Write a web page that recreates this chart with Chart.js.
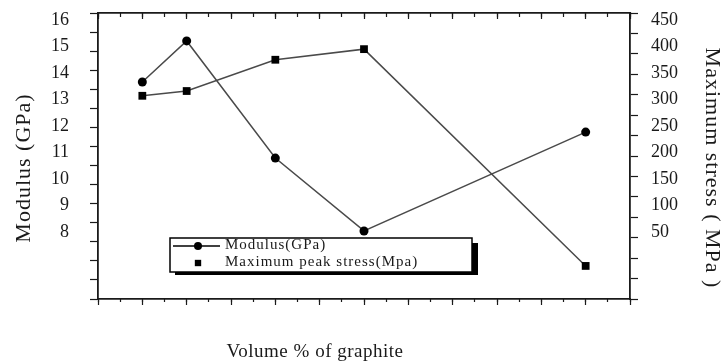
<!DOCTYPE html>
<html>
<head>
<meta charset="utf-8">
<script src="https://cdn.jsdelivr.net/npm/chart.js@4.4.1/dist/chart.umd.min.js"></script>
<style>
    html, body { margin: 0; padding: 0; background: #fff; }
    canvas { display: block; }
</style>
</head>
<body>
<canvas id="graphChart" width="721" height="363"></canvas>
<script>
// values
const graphite = [1, 2, 4, 6, 11];
const modulus = [13.66, 15.21, 10.79, 8.04, 11.77];
const peakStress = [307, 316, 375, 395, -14];

const modulusTicks = [8, 9, 10, 11, 12, 13, 14, 15, 16];
const stressTicks = [50, 100, 150, 200, 250, 300, 350, 400, 450];

const xTitle = 'Volume % of graphite';
const leftTitle = 'Modulus (GPa)';
const rightTitle = 'Maximum stress ( MPa )';

const serif = '"Liberation Serif", "Times New Roman", serif';
const ink = '#1a1a1a';

function fixTicks(values) {
    return function(scale) {
        scale.ticks = values.map(v => ({ value: v }));
    };
}

// axis that only carries tick marks
function marks(position, max, step, len, weight, border, size) {
    return {
        type: 'linear',
        position: position,
        min: 0,
        max: max,
        weight: weight,
        ticks: { display: false, stepSize: step },
        grid: { drawOnChartArea: false, tickLength: len, tickColor: ink, tickWidth: 1.2 },
        border: { display: border, color: ink, width: 1.8 },
        afterFit: function(scale) {
            if (position == 'left' || position == 'right') scale.width = size;
            else scale.height = size;
        }
    };
}

const boxLegend = {
    id: 'boxLegend',
    afterDraw(chart) {
        const ctx = chart.ctx;
        const area = chart.chartArea;
        const x = area.left + 72, y = area.top + 225, w = 302, h = 34;
        ctx.save();
        ctx.fillStyle = '#000';
        ctx.fillRect(x + 5, y + 5, w + 1, h - 2);
        ctx.fillStyle = '#fff';
        ctx.fillRect(x, y, w, h);
        ctx.strokeStyle = '#000';
        ctx.lineWidth = 1.5;
        ctx.strokeRect(x, y, w, h);

        chart.data.datasets.forEach((ds, i) => {
            const cy = y + 8 + i * 17;
            const cx = x + 28;
            if (ds.showLegendLine) {
                ctx.strokeStyle = '#000';
                ctx.lineWidth = 1.3;
                ctx.beginPath();
                ctx.moveTo(x + 3, cy);
                ctx.lineTo(x + 50, cy);
                ctx.stroke();
            }
            ctx.fillStyle = '#000';
            Chart.helpers.drawPoint(ctx, {
                pointStyle: ds.pointStyle,
                radius: ds.pointStyle == 'rect' ? 4.5 : 4,
                rotation: 0,
                borderWidth: 0
            }, cx, cy);
            ctx.fillStyle = ink;
            ctx.font = '15px ' + serif;
            ctx.letterSpacing = '1px';
            ctx.textAlign = 'left';
            ctx.textBaseline = 'middle';
            ctx.fillText(ds.label, x + 55, cy - 1);
        });
        ctx.restore();
    }
};

const axisTitles = {
    id: 'axisTitles',
    afterDraw(chart) {
        const ctx = chart.ctx;
        ctx.save();
        ctx.fillStyle = ink;
        ctx.textAlign = 'center';
        ctx.textBaseline = 'middle';

        ctx.font = '22px ' + serif;
        ctx.letterSpacing = '1px';
        ctx.save();
        ctx.translate(24, 168);
        ctx.rotate(-Math.PI / 2);
        ctx.fillText(leftTitle, 0, 0);
        ctx.restore();

        ctx.save();
        ctx.translate(712, 168);
        ctx.rotate(Math.PI / 2);
        ctx.fillText(rightTitle, 0, 0);
        ctx.restore();

        ctx.font = '19px ' + serif;
        ctx.letterSpacing = '0.5px';
        ctx.fillText(xTitle, 315, 352);
        ctx.restore();
    }
};

const data = {
    datasets: [{
        label: 'Modulus(GPa)',
        data: graphite.map((g, i) => ({ x: g, y: modulus[i] })),
        yAxisID: 'y',
        xAxisID: 'x',
        borderColor: '#4a4a4a',
        borderWidth: 1.5,
        pointStyle: 'circle',
        pointRadius: 4.5,
        pointBackgroundColor: '#000',
        pointBorderColor: '#000',
        pointBorderWidth: 0,
        showLegendLine: true,
        tension: 0
    }, {
        label: 'Maximum peak stress(Mpa)',
        data: graphite.map((g, i) => ({ x: g, y: peakStress[i] })),
        yAxisID: 'y1',
        xAxisID: 'x',
        borderColor: '#4a4a4a',
        borderWidth: 1.5,
        pointStyle: 'rect',
        pointRadius: 5.5,
        pointBackgroundColor: '#000',
        pointBorderColor: '#000',
        pointBorderWidth: 0,
        showLegendLine: false,
        tension: 0
    }]
};

// label axes: fixed width, no extra padding pushed onto the chart area
function labelFit(width) {
    return function(scale) {
        scale.width = width;
        scale.paddingTop = 0;
        scale.paddingBottom = 0;
    };
}

const config = {
    type: 'line',
    data: data,
    options: {
        responsive: false,
        animation: false,
        devicePixelRatio: 1,
        layout: { padding: { top: 13, left: 0, right: 0, bottom: 0 } },
        plugins: {
            legend: { display: false },
            tooltip: { enabled: false }
        },
        scales: {
            x: marks('bottom', 12, 1, 6, 0, true, 0),
            xMinor: marks('bottom', 12, 0.5, 3, 1, false, 64),
            xTop: marks('top', 12, 1, -6, 0, true, 0),
            xTopMinor: marks('top', 12, 0.5, -4, 1, false, 0),
            yMarks: marks('left', 15, 1, 8, 0, true, 8),
            y1Marks: marks('right', 14, 1, 8, 0, true, 8),
            y: {
                type: 'linear',
                position: 'left',
                weight: 1,
                min: 5.472,
                max: 16.264,
                afterBuildTicks: fixTicks(modulusTicks),
                ticks: { color: ink, padding: 13, font: { family: serif, size: 18 } },
                grid: { display: false },
                border: { display: false },
                afterFit: labelFit(90)
            },
            y1: {
                type: 'linear',
                position: 'right',
                weight: 1,
                min: -76.4,
                max: 463.2,
                afterBuildTicks: fixTicks(stressTicks),
                ticks: { color: ink, padding: 5, font: { family: serif, size: 18 } },
                grid: { display: false },
                border: { display: false },
                afterFit: labelFit(83)
            }
        }
    },
    plugins: [boxLegend, axisTitles]
};

const graphChart = new Chart(document.getElementById('graphChart'), config);
</script>
</body>
</html>
